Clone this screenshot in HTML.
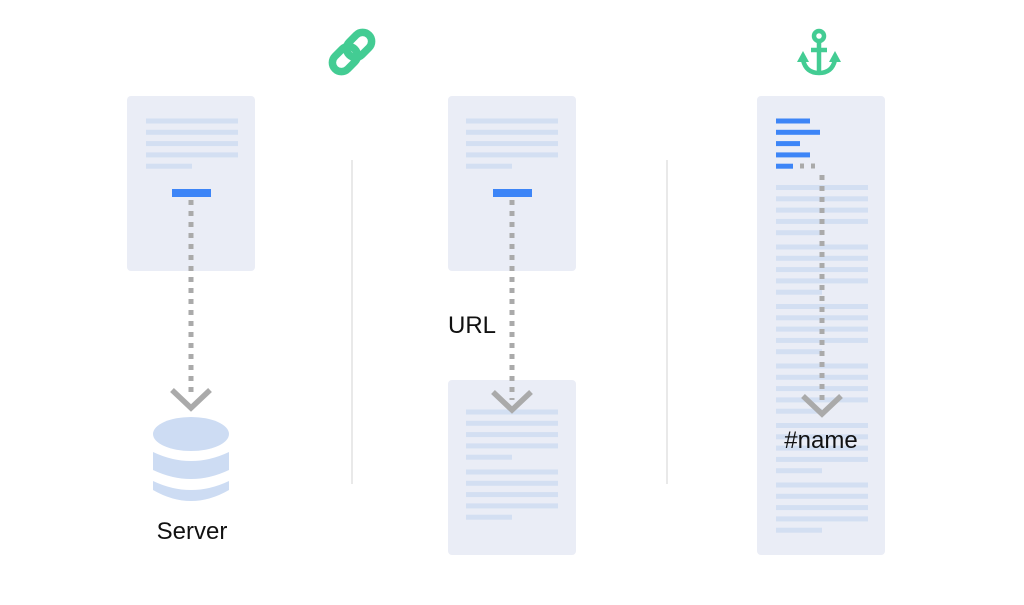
<!DOCTYPE html>
<html><head><meta charset="utf-8"><style>
html,body{margin:0;padding:0;background:#fff;}
svg{display:block;}
text{font-family:"Liberation Sans",sans-serif;fill:#111;}
</style></head><body>
<svg width="1024" height="605" viewBox="0 0 1024 605">
<defs>
<g id="lines5">
<rect x="0" y="0" width="92" height="5" fill="#d3dff2"/>
<rect x="0" y="11.3" width="92" height="5" fill="#d3dff2"/>
<rect x="0" y="22.6" width="92" height="5" fill="#d3dff2"/>
<rect x="0" y="33.9" width="92" height="5" fill="#d3dff2"/>
<rect x="0" y="45.2" width="46" height="5" fill="#d3dff2"/>
</g>
<g id="chev"><polyline points="-19,-9 0,9 19,-9" fill="none" stroke="#aaa" stroke-width="5.5"/></g>
</defs>
<!-- separators -->
<line x1="352" y1="160" x2="352" y2="484" stroke="#e2e2e2" stroke-width="1.5"/>
<line x1="667" y1="160" x2="667" y2="484" stroke="#e2e2e2" stroke-width="1.5"/>

<!-- link icon -->
<g transform="translate(352,52) rotate(-45)" fill="none" stroke="#43cc93" stroke-width="7.5" stroke-linecap="round">
<rect x="-24" y="-9" width="28" height="18" rx="9"/>
<rect x="-4" y="-9" width="28" height="18" rx="9"/>
</g>
<!-- anchor icon -->
<g fill="none" stroke="#43cc93" stroke-width="4.5">
<circle cx="819" cy="36" r="5"/>
<line x1="819" y1="41" x2="819" y2="72"/>
<line x1="811" y1="50" x2="827" y2="50"/>
<path d="M803 60 Q806 73 819 73 Q832 73 835 60"/>
</g>
<polygon points="797,62 803,51 809,62" fill="#43cc93"/>
<polygon points="829,62 835,51 841,62" fill="#43cc93"/>

<!-- left doc -->
<rect x="127" y="96" width="128" height="175" rx="4" fill="#eaedf6"/>
<g transform="translate(146,118.5)"><use href="#lines5"/></g>
<rect x="172" y="189" width="39" height="8" fill="#3d85f7"/>
<line x1="191" y1="200" x2="191" y2="396" stroke="#aaa" stroke-width="5" stroke-dasharray="5,6"/>
<g transform="translate(191,399)"><use href="#chev"/></g>
<!-- database -->
<g fill="#cddcf3">
<ellipse cx="191" cy="434" rx="38" ry="17"/>
<path d="M153 452 Q191 470 229 452 L229 470 Q191 488 153 470 Z"/>
<path d="M153 481 Q191 499 229 481 L229 490 Q191 512 153 490 Z"/>
</g>
<text x="192" y="539" font-size="24" text-anchor="middle">Server</text>

<!-- middle docs -->
<rect x="448" y="96" width="128" height="175" rx="4" fill="#eaedf6"/>
<g transform="translate(466,118.5)"><use href="#lines5"/></g>
<rect x="493" y="189" width="39" height="8" fill="#3d85f7"/>
<rect x="448" y="380" width="128" height="175" rx="4" fill="#eaedf6"/>
<g transform="translate(466,409.5)"><use href="#lines5"/></g>
<g transform="translate(466,469.5)"><use href="#lines5"/></g>
<line x1="512" y1="200" x2="512" y2="400" stroke="#aaa" stroke-width="5" stroke-dasharray="5,6"/>
<g transform="translate(512,401)"><use href="#chev"/></g>
<text x="448" y="333" font-size="24">URL</text>

<!-- right doc -->
<rect x="757" y="96" width="128" height="459" rx="4" fill="#eaedf6"/>
<g fill="#3d85f7">
<rect x="776" y="118.5" width="34" height="5"/>
<rect x="776" y="129.8" width="44" height="5"/>
<rect x="776" y="141.1" width="24" height="5"/>
<rect x="776" y="152.4" width="34" height="5"/>
<rect x="776" y="163.7" width="17" height="5"/>
</g>
<g transform="translate(776,185)"><use href="#lines5"/></g>
<g transform="translate(776,244.5)"><use href="#lines5"/></g>
<g transform="translate(776,304)"><use href="#lines5"/></g>
<g transform="translate(776,363.5)"><use href="#lines5"/></g>
<g transform="translate(776,423)"><use href="#lines5"/></g>
<g transform="translate(776,482.5)"><use href="#lines5"/></g>
<line x1="800" y1="166" x2="822" y2="166" stroke="#aaa" stroke-width="5" stroke-dasharray="4,7"/>
<line x1="822" y1="175" x2="822" y2="402" stroke="#aaa" stroke-width="5" stroke-dasharray="5,6"/>
<g transform="translate(822,405)"><use href="#chev"/></g>
<text x="821" y="448" font-size="24" text-anchor="middle">#name</text>
</svg>
</body></html>
